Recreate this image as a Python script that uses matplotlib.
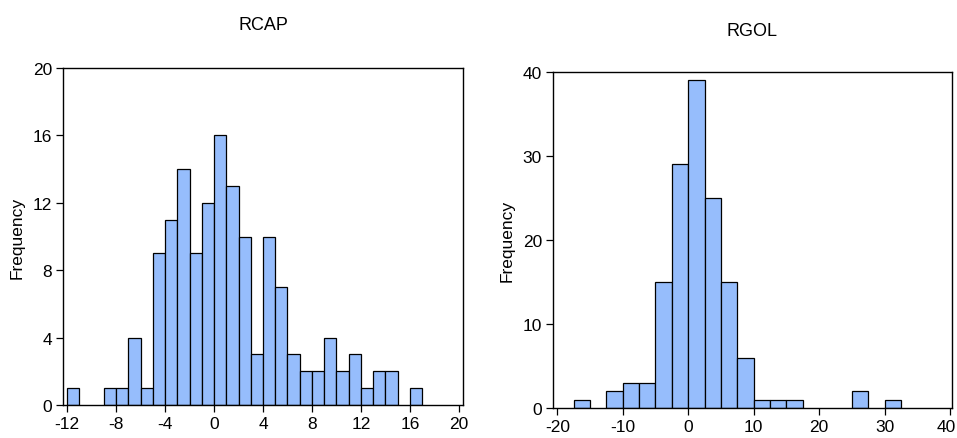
import numpy as np
import matplotlib
matplotlib.use('Agg')
import matplotlib.pyplot as plt
import matplotlib.transforms as mtransforms

# %% Data
rcap_start = -12.0   # first bin edge
rcap_width = 1.0
rcap_counts = [1, 0, 0, 1, 1, 4, 1, 9, 11, 14, 9, 12, 16, 13, 10,
               3, 10, 7, 3, 2, 2, 4, 2, 3, 1, 2, 2, 0, 1]
rcap_xticks = [-12, -8, -4, 0, 4, 8, 12, 16, 20]
rcap_yticks = [0, 4, 8, 12, 16, 20]

rgol_start = -17.5
rgol_width = 2.5
rgol_counts = [1, 0, 2, 3, 3, 15, 29, 39, 25, 15, 6, 1, 1, 1,
               0, 0, 0, 2, 0, 1]
rgol_xticks = [-20, -10, 0, 10, 20, 30, 40]
rgol_yticks = [0, 10, 20, 30, 40]

# %% Style
plt.rcParams['font.family'] = ['Liberation Sans', 'DejaVu Sans']
plt.rcParams['axes.unicode_minus'] = False  # plain hyphen like the original

bar_color = '#96BDFC'

def drawHist(fig, rect, start, width, counts, xticks, yticks, xlim, ylim, title, title_xy):
    ax = fig.add_axes(rect)
    counts = np.array(counts)
    edges = start + width*np.arange(len(counts))
    keep = counts > 0
    ax.bar(edges[keep], counts[keep], width=width, align='edge',
           color=bar_color, edgecolor='black', linewidth=0.9)
    ax.set_xlim(xlim)
    ax.set_ylim(ylim)
    ax.set_xticks(xticks)
    ax.set_yticks(yticks)
    ax.tick_params(direction='out', length=5, width=0.9, labelsize=12.5,
                   colors='black', pad=3)
    for s in ax.spines.values():
        s.set_linewidth(1.0)
    ax.set_ylabel('Frequency', fontsize=12.5)
    ax.yaxis.set_label_coords(-0.095, 0.5)
    fig.text(title_xy[0], title_xy[1], title, ha='center', va='center', fontsize=13)
    return ax

fig = plt.figure(figsize=(9.57, 4.39), dpi=100)

ax1 = drawHist(fig, [63/957, 1-406/439, 400/957, 337/439],
               rcap_start, rcap_width, rcap_counts, rcap_xticks, rcap_yticks,
               (-12.33, 20.33), (0, 20), 'RCAP', (263/957, 1-25/439))

ax2 = drawHist(fig, [553/957, 1-409/439, 399/957, 336/439],
               rgol_start, rgol_width, rgol_counts, rgol_xticks, rgol_yticks,
               (-20.66, 40.3), (0, 40), 'RGOL', (752/957, 1-31/439))

# nudge the last tick label so it stays inside the canvas
fig.canvas.draw()
last = ax2.get_xticklabels()[-1]
last.set_transform(last.get_transform() +
                   mtransforms.ScaledTranslation(-4/100, 0, fig.dpi_scale_trans))

fig.savefig('out.png', dpi=100)
